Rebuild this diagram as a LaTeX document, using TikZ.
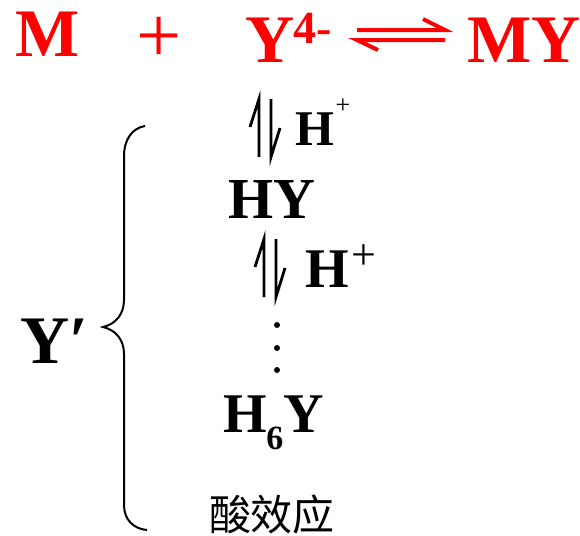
\documentclass[tikz,border=0pt]{standalone}
\usepackage{fontspec}
\setmainfont{Liberation Serif}
\newfontfamily\cjk{Noto Sans CJK SC}
\usepackage{tikz}
\usetikzlibrary{positioning,calc}

\tikzset{
  chem/.style={inner sep=0pt, anchor=base west,
               font=\fontsize{#1}{#1}\selectfont\bfseries},
  plain/.style={inner sep=0pt, anchor=center,
                font=\fontsize{#1}{#1}\selectfont},
  eqarrow/.style={red, line width=2pt},
  harp/.style={black, line width=1.4pt},
  brace/.style={black, line width=1pt}
}

\begin{document}
\begin{tikzpicture}[x=0.5pt, y=-0.5pt]
% 1 unit = 1 px of the 580x536 frame, y grows downwards
\useasboundingbox (0,0) rectangle (580,536);

%% --- Main reaction (red) ------------------------------------
\node[chem=34, red] (m)    at (15,56)  {M};
\node[plain=40, red] (plus) at (159,40) {+};
\node[chem=34, red] (y4)   at (245,62) {Y};
\node[chem=23, red] (chg)  at (293,43) {4-};
\node[chem=34, red] (my)   at (467,62) {MY};

%% --- Equilibrium arrows --------------------------------------
\coordinate (ua) at (357,30);
\coordinate (ub) at (445,30);
\coordinate (la) at (357,40);
\coordinate (lb) at (445,40);
\draw[eqarrow] (ua) -- (ub) -- ++(-22,-11);
\draw[eqarrow] (lb) -- (la) -- ++(21,10);

%% --- Protonation steps ---------------------------------------
\foreach \hx/\hy in {259/99, 264/239}{
  \draw[harp] (\hx-9,\hy+28) -- (\hx,\hy) -- (\hx,\hy+58);
  \draw[harp] (\hx+12,\hy) -- (\hx+12,\hy+58) -- (\hx+21,\hy+29);
}
\node[chem=25] (h1) at (295,145) {H};
\node[plain=13] (p1) at (343,106) {+};
\node[chem=29] (hy) at (228,218) {HY};
\node[chem=28] (h2) at (305,287) {H};
\node[plain=22] (p2) at (364,257) {+};

%% --- Dots and last species -----------------------------------
\foreach \dy in {325,348,370}{
  \fill (277,\dy) circle (1.5pt);
}
\node[chem=28]   (h6)  at (223,432) {H};
\node[chem=17]   (six) at (266,449) {6};
\node[chem=28]   (h6y) at (283,432) {Y};

%% --- Brace and labels ----------------------------------------
\draw[brace] (145,126) .. controls (132,128) and (124,140) .. (124,156)
  -- (124,300) .. controls (124,314) and (116,324) .. (103,327)
  .. controls (116,330) and (124,340) .. (124,354)
  -- (124,505) .. controls (124,520) and (134,529) .. (147,530);
\node[chem=34] (yp) at (20,363) {Y′};
\node[inner sep=0pt, font=\cjk\fontsize{21}{21}\selectfont] (acid) at (272,515) {酸效应};

\end{tikzpicture}
\end{document}
